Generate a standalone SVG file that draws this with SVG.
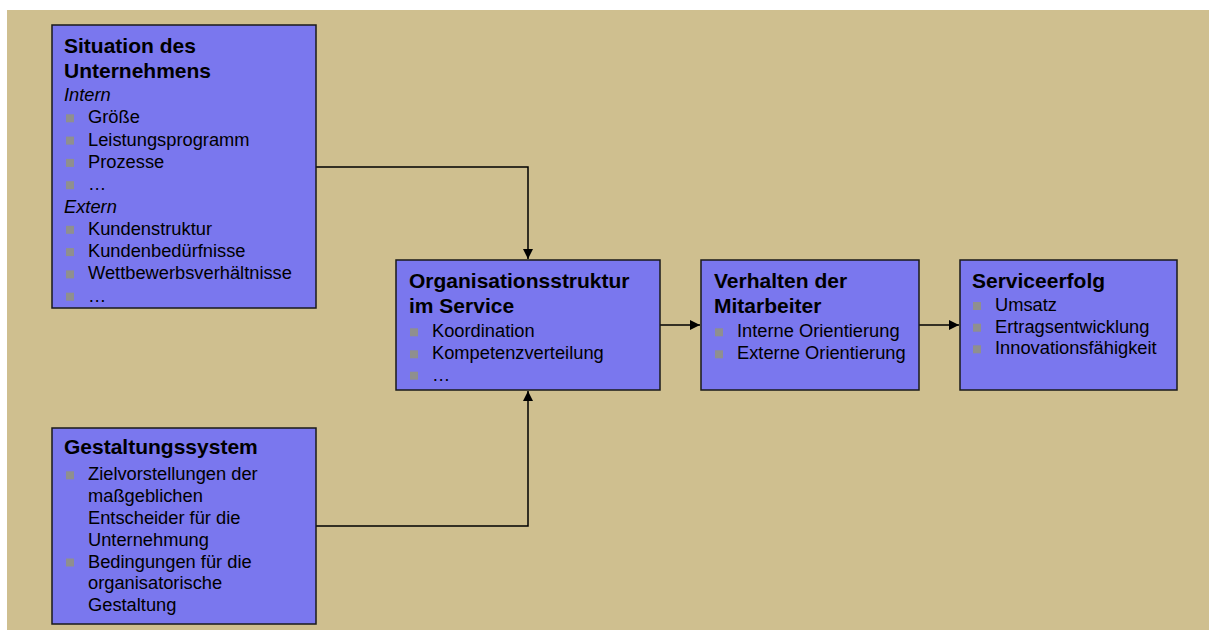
<svg xmlns="http://www.w3.org/2000/svg" width="1209" height="630" viewBox="0 0 1209 630">
<defs>
<style>
.box{fill:#7a77ee;stroke:#1a1a1a;stroke-width:1.5}
.t{font-family:"Liberation Sans",Arial,sans-serif;font-size:21px;font-weight:bold;fill:#000}
.i{font-family:"Liberation Sans",Arial,sans-serif;font-size:18.3px;fill:#000}
.it{font-family:"Liberation Sans",Arial,sans-serif;font-size:18.3px;font-style:italic;fill:#000}
.b{fill:#8f8f8f}
.c{fill:none;stroke:#000;stroke-width:1.5}
</style>
<marker id="ah" viewBox="0 0 10 10" refX="10" refY="5" markerWidth="10" markerHeight="10" orient="auto" markerUnits="userSpaceOnUse">
<path d="M0,0 L10,5 L0,10 z" fill="#000"/>
</marker>
</defs>
<rect x="0" y="0" width="1209" height="630" fill="#ffffff"/>
<rect x="7" y="10" width="1202" height="620" fill="#cfbf8f"/>

<g id="connectors">
<path class="c" d="M316,167 H528 V259" marker-end="url(#ah)"/>
<path class="c" d="M316,526 H528 V391" marker-end="url(#ah)"/>
<path class="c" d="M660,325 H700" marker-end="url(#ah)"/>
<path class="c" d="M919,325 H959" marker-end="url(#ah)"/>
</g>

<g id="situation">
<rect class="box" x="52" y="25" width="264" height="283"/>
<text class="t" x="64" y="53">Situation des</text>
<text class="t" x="64" y="78">Unternehmens</text>
<text class="it" x="64" y="101">Intern</text>
<rect class="b" x="66" y="114.3" width="8" height="8"/><text class="i" x="88" y="123.3">Größe</text>
<rect class="b" x="66" y="136.6" width="8" height="8"/><text class="i" x="88" y="145.6">Leistungsprogramm</text>
<rect class="b" x="66" y="158.9" width="8" height="8"/><text class="i" x="88" y="167.9">Prozesse</text>
<rect class="b" x="66" y="181.2" width="8" height="8"/><text class="i" x="88" y="190.2">…</text>
<text class="it" x="64" y="212.5">Extern</text>
<rect class="b" x="66" y="225.8" width="8" height="8"/><text class="i" x="88" y="234.8">Kundenstruktur</text>
<rect class="b" x="66" y="248.1" width="8" height="8"/><text class="i" x="88" y="257.1">Kundenbedürfnisse</text>
<rect class="b" x="66" y="270.4" width="8" height="8"/><text class="i" x="88" y="279.4">Wettbewerbsverhältnisse</text>
<rect class="b" x="66" y="292.7" width="8" height="8"/><text class="i" x="88" y="301.7">…</text>
</g>

<g id="gestaltung">
<rect class="box" x="52" y="428" width="264" height="196"/>
<text class="t" x="64" y="454">Gestaltungssystem</text>
<rect class="b" x="66" y="471.3" width="8" height="8"/><text class="i" x="88" y="480.3">Zielvorstellungen der</text>
<text class="i" x="88" y="502.1">maßgeblichen</text>
<text class="i" x="88" y="523.9">Entscheider für die</text>
<text class="i" x="88" y="545.7">Unternehmung</text>
<rect class="b" x="66" y="558.5" width="8" height="8"/><text class="i" x="88" y="567.5">Bedingungen für die</text>
<text class="i" x="88" y="589.3">organisatorische</text>
<text class="i" x="88" y="611.1">Gestaltung</text>
</g>

<g id="organisation">
<rect class="box" x="396" y="260" width="264" height="130"/>
<text class="t" x="409" y="287.5">Organisationsstruktur</text>
<text class="t" x="409" y="312.5">im Service</text>
<rect class="b" x="410" y="328.3" width="8" height="8"/><text class="i" x="432" y="337.3">Koordination</text>
<rect class="b" x="410" y="350.3" width="8" height="8"/><text class="i" x="432" y="359.3">Kompetenzverteilung</text>
<rect class="b" x="410" y="371.7" width="8" height="8"/><text class="i" x="432" y="380.7">…</text>
</g>

<g id="verhalten">
<rect class="box" x="701" y="260" width="218" height="130"/>
<text class="t" x="714" y="287.5">Verhalten der</text>
<text class="t" x="714" y="313">Mitarbeiter</text>
<rect class="b" x="715" y="328.3" width="8" height="8"/><text class="i" x="737" y="337.3">Interne Orientierung</text>
<rect class="b" x="715" y="350.3" width="8" height="8"/><text class="i" x="737" y="359.3">Externe Orientierung</text>
</g>

<g id="serviceerfolg">
<rect class="box" x="960" y="260" width="217" height="130"/>
<text class="t" x="972" y="287.5">Serviceerfolg</text>
<rect class="b" x="973" y="302" width="8" height="8"/><text class="i" x="995" y="311">Umsatz</text>
<rect class="b" x="973" y="323.7" width="8" height="8"/><text class="i" x="995" y="332.7">Ertragsentwicklung</text>
<rect class="b" x="973" y="345.3" width="8" height="8"/><text class="i" x="995" y="354.3">Innovationsfähigkeit</text>
</g>
</svg>
